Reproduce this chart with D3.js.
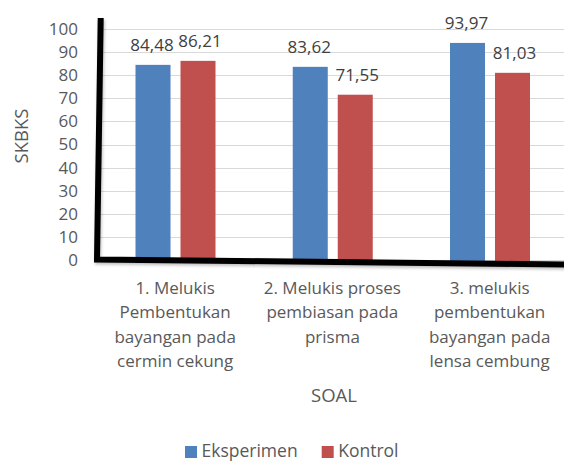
<!DOCTYPE html>
<html>
<head>
<meta charset="utf-8">
<script src="https://cdn.jsdelivr.net/npm/d3@7"></script>
<style>
  html, body { margin: 0; padding: 0; background: #ffffff; }
  svg { display: block; }
  text { font-family: "Open Sans", "Noto Sans", sans-serif; }
</style>
</head>
<body>
<div id="chart"></div>
<script>
// ---- data ----
const categories = ["Soal 1", "Soal 2", "Soal 3"];
const categoryLines = [
  ["1. Melukis", "Pembentukan", "bayangan pada", "cermin cekung"],
  ["2. Melukis proses", "pembiasan pada", "prisma"],
  ["3. melukis", "pembentukan", "bayangan pada", "lensa cembung"]
];
const seriesNames = ["Eksperimen", "Kontrol"];
const eksperimen = [84.48, 83.62, 93.97];
const kontrol = [86.21, 71.55, 81.03];
const yTicks = [0, 10, 20, 30, 40, 50, 60, 70, 80, 90, 100];
const yTitle = "SKBKS";
const xTitle = "SOAL";
const colors = ["#4F81BD", "#C0504D"];

// ---- layout ----
const W = 564, H = 462;
const svg = d3.select("#chart").append("svg").attr("width", W).attr("height", H);

const defs = svg.append("defs");
const f = defs.append("filter").attr("id", "shadow").attr("x", "-5%").attr("y", "-5%").attr("width", "110%").attr("height", "115%");
f.append("feDropShadow").attr("dx", 1).attr("dy", 2).attr("stdDeviation", 1.5)
  .attr("flood-color", "#000").attr("flood-opacity", 0.25);

const y = d3.scaleLinear().domain([0, 100]).range([260, 29]);
const x0 = d3.scaleBand().domain(categories).range([96.5, 568.25]).padding(0);
const x1 = d3.scaleBand().domain(seriesNames).range([39, 119]).paddingInner(0.222);

const fmt = v => d3.format(".2f")(v).replace(".", ",");

// gridlines
svg.append("g").selectAll("line").data(yTicks).join("line")
  .attr("x1", 99).attr("x2", W)
  .attr("y1", d => Math.round(y(d)) + 0.5).attr("y2", d => Math.round(y(d)) + 0.5)
  .attr("stroke", "#d9d9d9").attr("stroke-width", 1);

// y axis tick labels
const yAxis = d3.axisLeft(y).tickValues(yTicks).tickSize(0).tickPadding(20).tickFormat(d3.format("d"));
const gy = svg.append("g").attr("transform", "translate(98,0)").call(yAxis);
gy.select(".domain").remove();
gy.selectAll("text").attr("font-size", 17).attr("fill", "#595959")
  .style("font-family", "'Open Sans', sans-serif");

// bars
const rows = categories.map((c, i) => ({ c, vals: [eksperimen[i], kontrol[i]] }));
const groups = svg.append("g").selectAll("g").data(rows).join("g")
  .attr("transform", d => `translate(${x0(d.c)},0)`);
groups.selectAll("rect").data(d => d.vals.map((v, j) => ({ s: seriesNames[j], v, j }))).join("rect")
  .attr("x", d => x1(d.s)).attr("width", x1.bandwidth())
  .attr("y", d => y(d.v)).attr("height", d => y(0) - y(d.v) + 3)
  .attr("fill", d => colors[d.j]);
groups.selectAll("text").data(d => d.vals.map((v, j) => ({ s: seriesNames[j], v, j }))).join("text")
  .attr("x", d => x1(d.s) + x1.bandwidth() / 2 + (d.j === 0 ? -1 : 2))
  .attr("y", d => y(d.v) - 14)
  .attr("text-anchor", "middle").attr("font-size", 17).attr("fill", "#404040")
  .text(d => fmt(d.v));

// frame (thick black axes)
svg.append("path")
  .attr("d", "M100.7,18 L97,259.5 L566,264.5")
  .attr("fill", "none").attr("stroke", "#000").attr("stroke-width", 6)
  .attr("stroke-linejoin", "miter").attr("filter", "url(#shadow)");

// category labels
const cl = svg.append("g").selectAll("text").data(categories).join("text")
  .attr("text-anchor", "middle").attr("font-size", 17).attr("fill", "#595959")
  .attr("x", d => x0(d) + x0.bandwidth() / 2).attr("y", 294);
cl.selectAll("tspan").data((d, i) => categoryLines[i]).join("tspan")
  .attr("x", function () { return this.parentNode.getAttribute("x"); })
  .attr("dy", (d, i) => i === 0 ? 0 : 24.3)
  .text(d => d);

// axis titles
svg.append("text").attr("x", 334).attr("y", 401.5).attr("text-anchor", "middle")
  .attr("font-size", 18.5).attr("fill", "#595959").text(xTitle);
svg.append("text").attr("transform", "translate(28,136) rotate(-90)").attr("text-anchor", "middle")
  .attr("font-size", 18.5).attr("fill", "#595959").text(yTitle);

// legend
const legendX = [185, 321.7];
const lg = svg.append("g").selectAll("g").data(seriesNames).join("g")
  .attr("transform", (d, i) => `translate(${legendX[i]},0)`);
lg.append("rect").attr("x", 0).attr("y", 446).attr("width", 12).attr("height", 12)
  .attr("fill", (d, i) => colors[i]);
lg.append("text").attr("x", 16.5).attr("y", 457).attr("font-size", 17.5).attr("fill", "#595959")
  .text(d => d);
</script>
</body>
</html>
